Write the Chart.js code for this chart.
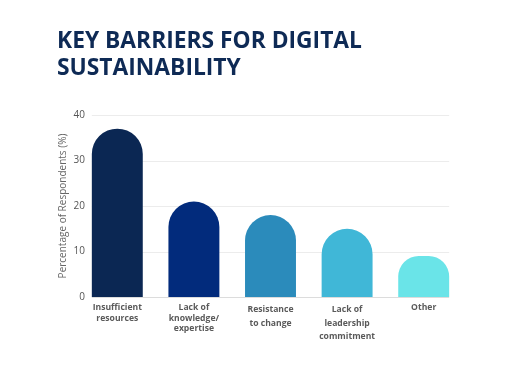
<!DOCTYPE html>
<html>
<head>
<meta charset="utf-8">
<script src="https://cdn.jsdelivr.net/npm/chart.js@4"></script>
<style>
  html, body { margin: 0; padding: 0; background: #fff; }
  #wrap { position: relative; width: 520px; height: 374px; }
  #title {
    position: absolute; left: 57px; top: 26px; margin: 0;
    font-family: "Open Sans", sans-serif; font-weight: 700;
    font-size: 22.8px; line-height: 27px; color: #0e2a55;
  }
  #chartCanvas { position: absolute; left: 0; top: 0; }
</style>
</head>
<body>
<div id="wrap">
  <canvas id="chartCanvas" width="520" height="374"></canvas>
  <h1 id="title">KEY BARRIERS FOR DIGITAL<br>SUSTAINABILITY</h1>
</div>
<script>
//data
const categories = [
  ["Insufficient", "resources"],
  ["Lack of", "knowledge/", "expertise"],
  ["Resistance", "to change"],
  ["Lack of", "leadership", "commitment"],
  ["Other"],
];
const values = [37, 21, 18, 15, 9];
const barColors = ["#0b2753", "#022b7c", "#2b8bbb", "#40b7d7", "#6ae4e8"];
const yTicks = [0, 10, 20, 30, 40];

//gridlines only span the bars, not the whole chart area
const barGrid = {
  id: "barGrid",
  beforeDatasetsDraw(chart) {
    const ctx = chart.ctx;
    const bars = chart.getDatasetMeta(0).data;
    const x0 = bars[0].x - bars[0].width / 2;
    const x1 = bars[bars.length - 1].x + bars[bars.length - 1].width / 2;
    const yScale = chart.scales.y;
    ctx.save();
    ctx.lineWidth = 1;
    yTicks.forEach((v) => {
      const y = Math.round(yScale.getPixelForValue(v)) + 0.5;
      ctx.strokeStyle = v === 0 ? "#dcdcdc" : "#ececec";
      ctx.beginPath();
      ctx.moveTo(x0, y);
      ctx.lineTo(x1, y);
      ctx.stroke();
    });
    ctx.restore();
  },
};

new Chart(document.getElementById("chartCanvas"), {
  type: "bar",
  data: {
    labels: categories,
    datasets: [
      {
        data: values,
        backgroundColor: barColors,
        borderRadius: { topLeft: 26, topRight: 26 },
        borderSkipped: "start",
        barPercentage: 0.665,
        categoryPercentage: 1,
      },
    ],
  },
  options: {
    responsive: false,
    animation: false,
    layout: { padding: { top: 115, right: 58, left: 0, bottom: 0 } },
    plugins: { legend: { display: false }, tooltip: { enabled: false } },
    scales: {
      x: {
        grid: { display: false, drawTicks: false },
        border: { display: false },
        ticks: {
          color: "#5a5a5a",
          padding: 6,
          maxRotation: 0,
          autoSkip: false,
          font: (c) => ({
            family: "Open Sans",
            size: 8.6,
            weight: "bold",
            lineHeight: c.index === 2 || c.index === 3 ? 1.58 : 1.17,
          }),
        },
        afterFit: (s) => { s.height = 77; },
      },
      y: {
        min: 0,
        max: 40,
        afterBuildTicks: (s) => { s.ticks = yTicks.map((v) => ({ value: v })); },
        grid: { display: false, drawTicks: false },
        border: { display: false },
        ticks: {
          color: "#555",
          mirror: true,
          crossAlign: "far",
          padding: -5.4,
          font: { family: "Open Sans", size: 10 },
        },
        title: {
          display: true,
          text: "Percentage of Respondents (%)",
          color: "#666",
          padding: { top: 57, bottom: 0 },
          font: { family: "Open Sans", size: 10 },
        },
        afterFit: (s) => { s.width = 79; },
      },
    },
  },
  plugins: [barGrid],
});
</script>
</body>
</html>
